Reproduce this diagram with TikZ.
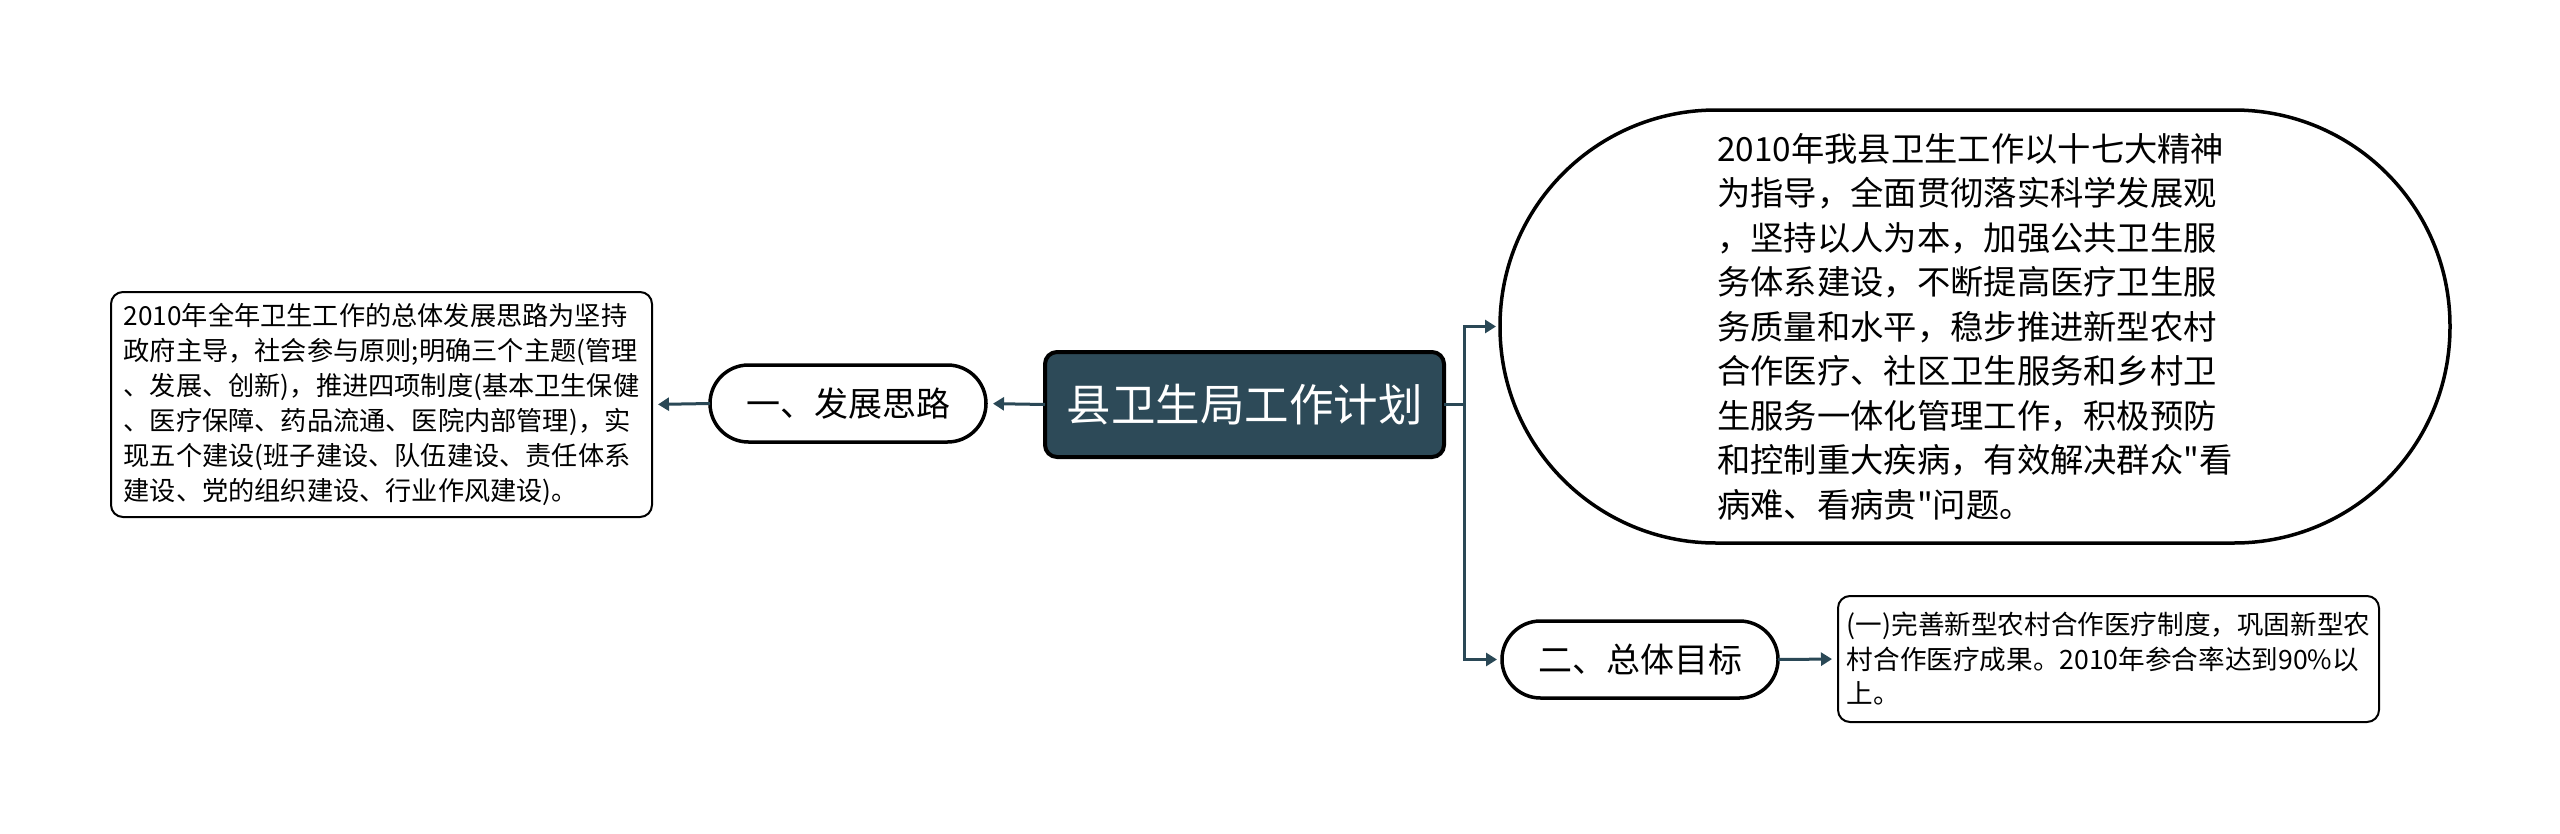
\documentclass[tikz,border=0pt]{standalone}
\usepackage{fontspec}
\newfontfamily\cjk{Noto Sans CJK SC}
\usetikzlibrary{arrows.meta}
\definecolor{conncol}{HTML}{2A4856}
\definecolor{rootfill}{HTML}{2D4A58}
\tikzset{
  conn/.style={draw=conncol, line width=3pt, -{Triangle[length=11pt,width=13pt]}},
  plainconn/.style={draw=conncol, line width=3pt},
  rootbox/.style={draw=black, line width=4pt, fill=rootfill, rounded corners=12pt, text=white,
    minimum width=399pt, minimum height=105pt, inner sep=0pt, outer sep=0pt,
    font=\cjk\fontsize{44.5}{52}\selectfont},
  pill/.style={draw=black, line width=3.5pt, fill=white, rounded corners=38.5pt,
    minimum width=276pt, minimum height=77pt, inner sep=0pt, outer sep=0pt,
    font=\cjk\fontsize{34}{40}\selectfont},
  bigpill/.style={draw=black, line width=3.5pt, fill=white, rounded corners=216pt,
    minimum width=950pt, minimum height=433pt, inner sep=0pt, outer sep=0pt, align=left,
    font=\cjk\fontsize{33.3}{44.5}\selectfont},
  leafbox/.style={draw=black, line width=2pt, fill=white, rounded corners=12pt,
    inner sep=0pt, outer sep=0pt, align=left,
    font=\cjk\fontsize{26.2}{35}\selectfont},
}
\begin{document}
\begin{tikzpicture}[x=1pt,y=-1pt]
\useasboundingbox[fill=white] (0,0) rectangle (2560,833);
\node[rootbox] (root) at (1244.5,404.5) {县卫生局工作计划};
\node[pill] (one) at (848,403.5) {一、发展思路};
\node[pill] (two) at (1640,659.5) {二、总体目标};
\node[leafbox, minimum width=541pt, minimum height=225pt] (oneleaf) at (381.5,404.5)
  {2010年全年卫生工作的总体发展思路为坚持\\
   政府主导，社会参与原则;明确三个主题(管理\\
   、发展、创新)，推进四项制度(基本卫生保健\\
   、医疗保障、药品流通、医院内部管理)，实\\
   现五个建设(班子建设、队伍建设、责任体系\\
   建设、党的组织建设、行业作风建设)。};
\node[bigpill] (big) at (1975,326.5)
  {2010年我县卫生工作以十七大精神\\
   为指导，全面贯彻落实科学发展观\\
   ，坚持以人为本，加强公共卫生服\\
   务体系建设，不断提高医疗卫生服\\
   务质量和水平，稳步推进新型农村\\
   合作医疗、社区卫生服务和乡村卫\\
   生服务一体化管理工作，积极预防\\
   和控制重大疾病，有效解决群众"看\\
   病难、看病贵"问题。};
\node[leafbox, minimum width=541pt, minimum height=126pt, font=\cjk\fontsize{26.6}{34.5}\selectfont] (twoleaf) at (2108.5,659)
  {(一)完善新型农村合作医疗制度，巩固新型农\\
   村合作医疗成果。2010年参合率达到90\%以\\
   上。};
\coordinate (trunk) at (1464,404.5);
\draw[conn, shorten >=7pt] (root.west) -- (one.east);
\draw[conn, shorten >=6pt] (one.west) -- (oneleaf.east);
\draw[plainconn] (root.east) -- (trunk);
\draw[conn, shorten >=4pt] (trunk) |- (big.west);
\draw[conn, shorten >=5pt] (trunk) |- (two.west);
\draw[conn, shorten >=6pt] (two.east) -- (twoleaf.west);
\end{tikzpicture}
\end{document}
